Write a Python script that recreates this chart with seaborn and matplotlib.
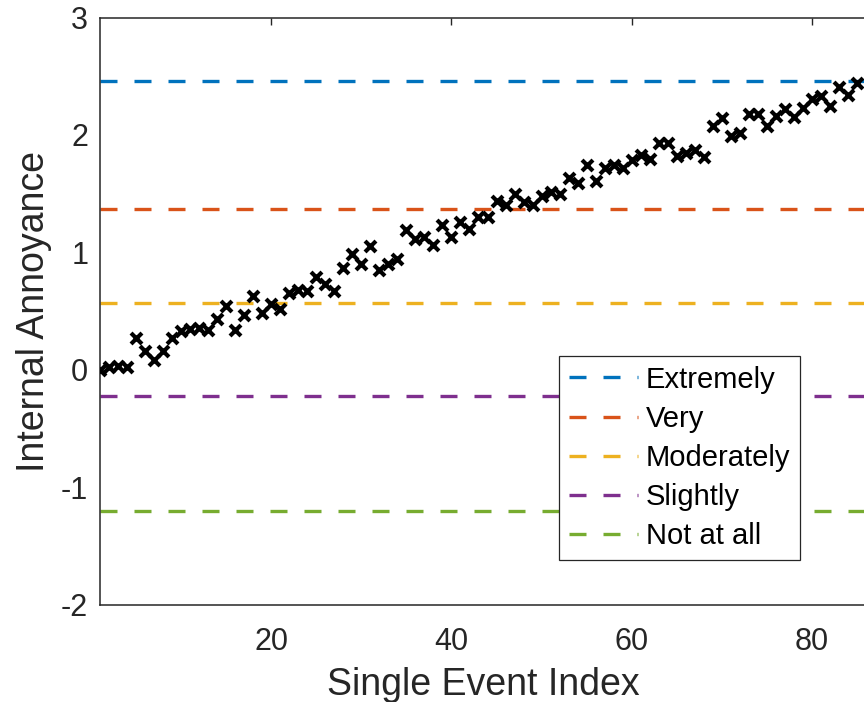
import matplotlib
matplotlib.use("Agg")
import matplotlib.pyplot as plt
import seaborn as sns
import pandas as pd

# ---- data ----
event_index = list(range(1, 86))
annoyance = [
    0.00, 0.02, 0.03, 0.02, 0.275, 0.16, 0.08, 0.16, 0.27, 0.33,
    0.35, 0.36, 0.34, 0.43, 0.54, 0.34, 0.47, 0.63, 0.48, 0.56,
    0.52, 0.65, 0.68, 0.67, 0.79, 0.735, 0.67, 0.87, 0.99, 0.905,
    1.056, 0.85, 0.90, 0.94, 1.19, 1.11, 1.13, 1.065, 1.23, 1.13,
    1.255, 1.20, 1.30, 1.30, 1.44, 1.405, 1.50, 1.425, 1.405, 1.48,
    1.51, 1.50, 1.63, 1.59, 1.74, 1.61, 1.72, 1.74, 1.72, 1.79,
    1.83, 1.795, 1.93, 1.93, 1.82, 1.845, 1.87, 1.81, 2.08, 2.14,
    1.99, 2.02, 2.18, 2.18, 2.08, 2.16, 2.22, 2.15, 2.23, 2.31,
    2.33, 2.25, 2.41, 2.34, 2.44,
]
levels = ["Extremely", "Very", "Moderately", "Slightly", "Not at all"]
level_values = [2.46, 1.37, 0.57, -0.22, -1.20]
level_colors = ["#0072BD", "#D95319", "#EDB120", "#7E2F8E", "#77AC30"]
x_ticks = [20, 40, 60, 80]
y_ticks = [-2, -1, 0, 1, 2, 3]

# ---- style ----
sns.set_theme(style="white")
plt.rcParams["font.family"] = ["Liberation Sans", "DejaVu Sans"]
plt.rcParams["axes.unicode_minus"] = False
dark = "#262626"

fig = plt.figure(figsize=(8.64, 7.02), dpi=100)
fig.patch.set_facecolor("white")
ax = fig.add_axes([100 / 864, (702 - 604.7) / 702, 766 / 864, 587.2 / 702])

for name, val, col in zip(levels, level_values, level_colors):
    ax.axhline(val, color=col, lw=2.4, dashes=(5.1, 5.1), label=name, zorder=2)

df = pd.DataFrame({"index": event_index, "annoyance": annoyance})
sns.scatterplot(data=df, x="index", y="annoyance", marker="x", color="black",
                s=62, linewidth=3.0, ax=ax, zorder=3, legend=False)

ax.set_xlim(1, 86)
ax.set_ylim(-2, 3)
ax.set_xticks(x_ticks)
ax.set_yticks(y_ticks)

for sp in ax.spines.values():
    sp.set_color(dark)
    sp.set_linewidth(1.1)
    sp.set_visible(True)

ax.tick_params(axis="both", direction="in", length=5.3, width=1.0,
               colors=dark, labelsize=22, top=True, right=False)
ax.tick_params(axis="y", pad=8.5)
ax.tick_params(axis="x", pad=16)

ax.set_xlabel("Single Event Index", fontsize=27, color=dark)
ax.set_ylabel("Internal Annoyance", fontsize=27, color=dark)
ax.xaxis.set_label_coords(0.5, (604.7 - 667) / 587.2)
ax.yaxis.set_label_coords((52 - 100) / 766, 0.5)

leg = ax.legend(loc="upper left", bbox_to_anchor=(559 / 864, 1 - 356 / 702),
                bbox_transform=fig.transFigure, borderaxespad=0,
                fontsize=21, handlelength=2.39, handletextpad=0.26,
                borderpad=0.33, labelspacing=0.38, fancybox=False,
                framealpha=1, edgecolor=dark)
leg.get_frame().set_linewidth(0.9)
for t in leg.get_texts():
    t.set_color("black")

fig.savefig("out.png", dpi=100, facecolor="white")
